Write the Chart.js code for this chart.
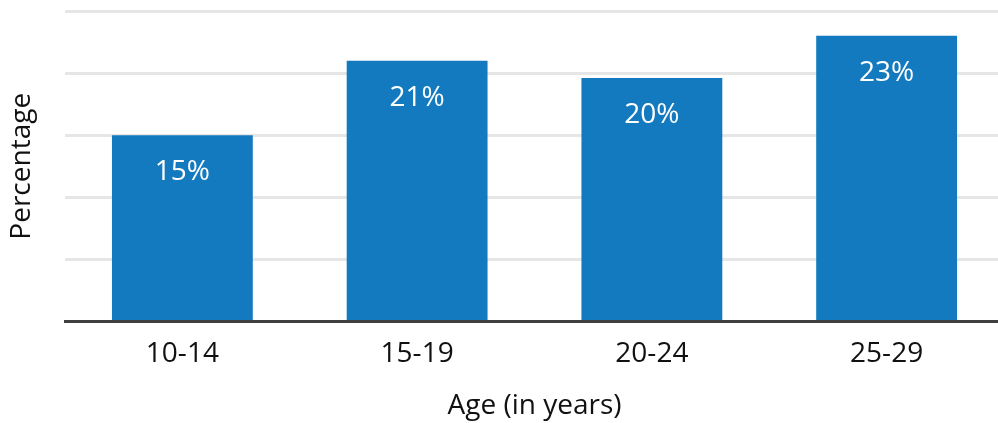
<!DOCTYPE html>
<html>
<head>
<meta charset="utf-8">
<script src="https://cdn.jsdelivr.net/npm/chart.js@4/dist/chart.umd.min.js"></script>
<style>
  html, body { margin: 0; padding: 0; background: #ffffff; overflow: hidden; }
  body { width: 998px; height: 423px; }
  #wrap { width: 1004px; height: 423px; }
</style>
</head>
<body>
<div id="wrap"><canvas id="chart" width="1004" height="423"></canvas></div>
<script>
// Share of respondents by age group
const ageGroups = ['10-14', '15-19', '20-24', '25-29'];
const shares = [15, 21, 19.6, 23];
const yTicks = [0, 5, 10, 15, 20, 25];

const FONT = "'Open Sans', 'Noto Sans', sans-serif";
const BAR_BLUE = '#137ac0';

// White percentage labels inside the top of each bar
const insideLabels = {
  id: 'insideLabels',
  afterDatasetsDraw(chart) {
    const ctx = chart.ctx;
    const meta = chart.getDatasetMeta(0);
    ctx.save();
    ctx.fillStyle = '#ffffff';
    ctx.font = '28px ' + FONT;
    ctx.textAlign = 'center';
    ctx.textBaseline = 'middle';
    meta.data.forEach((bar, i) => {
      const v = chart.data.datasets[0].data[i];
      ctx.fillText(Math.round(v) + '%', bar.x, bar.y + 37);
    });
    ctx.restore();
  }
};

new Chart(document.getElementById('chart'), {
  type: 'bar',
  data: {
    labels: ageGroups,
    datasets: [{
      data: shares,
      backgroundColor: BAR_BLUE,
      borderWidth: 0,
      barPercentage: 0.6,
      categoryPercentage: 1.0
    }]
  },
  options: {
    responsive: false,
    animation: false,
    events: [],
    layout: { padding: { top: 11, right: 0, bottom: 0, left: 0 } },
    plugins: {
      legend: { display: false },
      tooltip: { enabled: false }
    },
    scales: {
      x: {
        z: 1,
        grid: { display: false, drawTicks: false },
        border: { display: true, color: '#404040', width: 3 },
        ticks: {
          color: '#111111',
          font: { family: FONT, size: 28 },
          padding: 16
        },
        title: {
          display: true,
          text: 'Age (in years)',
          color: '#111111',
          font: { family: FONT, size: 28 },
          padding: { top: 0, bottom: 0 }
        },
        afterFit(scale) { scale.height = 101.5; }
      },
      y: {
        min: 0,
        max: 25,
        afterBuildTicks(scale) { scale.ticks = yTicks.map(v => ({ value: v })); },
        grid: {
          drawTicks: false,
          lineWidth: 3,
          color: (c) => (c.tick && c.tick.value === 0) ? 'rgba(0,0,0,0)' : '#e6e6e6'
        },
        border: { display: false },
        ticks: { display: false },
        title: {
          display: true,
          text: 'Percentage',
          color: '#111111',
          font: { family: FONT, size: 28 },
          padding: { top: 5, bottom: 0 }
        },
        afterFit(scale) { scale.width = 65; }
      }
    }
  },
  plugins: [insideLabels]
});
</script>
</body>
</html>
